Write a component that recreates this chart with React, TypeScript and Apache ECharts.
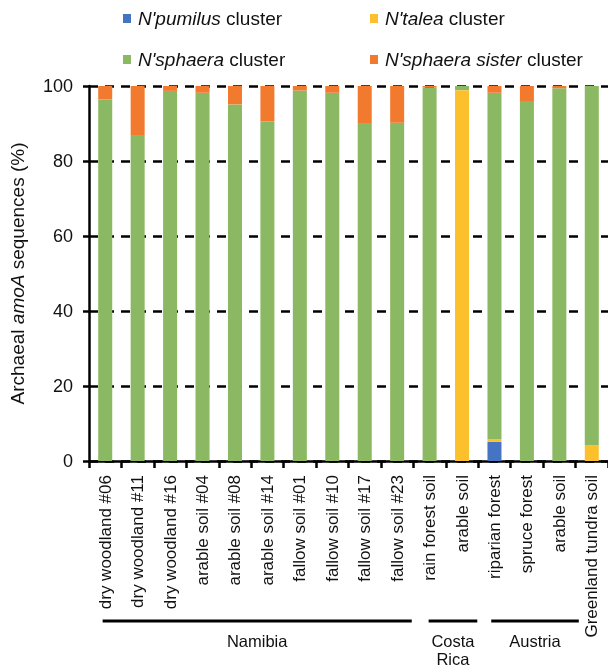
import React, { useEffect, useRef } from "react";
import * as echarts from "echarts";

const categories = [
  "dry woodland #06",
  "dry woodland #11",
  "dry woodland #16",
  "arable soil #04",
  "arable soil #08",
  "arable soil #14",
  "fallow soil #01",
  "fallow soil #10",
  "fallow soil #17",
  "fallow soil #23",
  "rain forest soil",
  "arable soil",
  "riparian forest",
  "spruce forest",
  "arable soil",
  "Greenland tundra soil",
];

const pumilus = [0, 0, 0, 0, 0, 0, 0, 0, 0, 0, 0, 0, 5.1, 0, 0, 0];
const talea = [0, 0, 0, 0, 0, 0, 0, 0, 0, 0, 0, 98.9, 0.7, 0, 0, 4.2];
const sphaera = [96.5, 86.7, 98.7, 98.2, 95.1, 90.5, 98.8, 98.2, 89.9, 90.2, 99.6, 1.1, 92.4, 96.0, 99.4, 95.8];
const sister = [3.5, 13.3, 1.3, 1.8, 4.9, 9.5, 1.2, 1.8, 10.1, 9.8, 0.4, 0, 1.8, 4.0, 0.6, 0];

const yTicks = [0, 20, 40, 60, 80, 100];

const groups = [
  { label: "Namibia", from: -0.08, to: 9.45 },
  { label: "Costa\nRica", from: 9.97, to: 11.47 },
  { label: "Austria", from: 11.9, to: 14.6 },
];

const FONT = "'Liberation Sans', Arial, sans-serif";

const seriesNames = [
  "N'pumilus cluster",
  "N'talea cluster",
  "N'sphaera cluster",
  "N'sphaera sister cluster",
];
const legendLabels: Record<string, string> = {
  "N'pumilus cluster": "{i|N'pumilus} cluster",
  "N'talea cluster": "{i|N'talea} cluster",
  "N'sphaera cluster": "{i|N'sphaera} cluster",
  "N'sphaera sister cluster": "{i|N'sphaera sister} cluster",
};
const colors = ["#4474C2", "#FBC02C", "#8BB862", "#F27A2F"];

export default function App() {
  const ref = useRef<HTMLDivElement>(null);
  useEffect(() => {
    if (!ref.current) return;
    const chart = echarts.init(ref.current, undefined, { renderer: "svg" });
    const legendCommon = {
      orient: "vertical" as const,
      itemWidth: 8,
      itemHeight: 9,
      itemGap: 21,
      icon: "rect",
      padding: 0,
      formatter: (n: string) => legendLabels[n],
      textStyle: {
        fontSize: 19,
        lineHeight: 20,
        fontFamily: FONT,
        color: "#111",
        padding: [0, 0, 0, 2],
        rich: { i: { fontStyle: "italic", fontSize: 19, lineHeight: 20, fontFamily: FONT, color: "#111" } },
      },
    };
    const dataArr = [pumilus, talea, sphaera, sister];
    chart.setOption({
      animation: false,
      legend: [
        { ...legendCommon, left: 123, top: 8.5, data: [seriesNames[0], seriesNames[2]] },
        { ...legendCommon, left: 370, top: 8.5, data: [seriesNames[1], seriesNames[3]] },
      ],
      grid: { left: 88, right: -3, top: 86, bottom: 207 },
      xAxis: {
        type: "category",
        data: categories,
        axisLine: { lineStyle: { color: "#000", width: 2.5 } },
        axisTick: { show: true, length: 7, lineStyle: { color: "#000", width: 2.5 } },
        axisLabel: {
          rotate: 90,
          interval: 0,
          margin: 14,
          fontSize: 17,
          fontFamily: FONT,
          color: "#111",
        },
      },
      yAxis: {
        type: "value",
        min: 0,
        max: 100,
        interval: 20,
        name: "{a|Archaeal }{b|amoA}{a| sequences (%)}",
        nameLocation: "middle",
        nameGap: 62,
        nameTextStyle: {
          fontSize: 19,
          fontFamily: FONT,
          color: "#111",
          rich: {
            a: { fontSize: 19, fontFamily: FONT, color: "#111" },
            b: { fontSize: 19, fontFamily: FONT, color: "#111", fontStyle: "italic" },
          },
        },
        axisLine: { show: true, lineStyle: { color: "#000", width: 2.5 } },
        axisTick: { show: true, length: 6, lineStyle: { color: "#000", width: 2.5 } },
        axisLabel: {
          fontSize: 18,
          fontFamily: FONT,
          color: "#111",
          margin: 16,
          formatter: (v: number) => (yTicks.includes(v) ? String(v) : ""),
        },
        splitLine: {
          show: true,
          lineStyle: { color: "#000", width: 2.5, type: [9, 7] },
        },
      },
      series: seriesNames.map((name, i) => ({
        name,
        type: "bar",
        stack: "total",
        barWidth: 14,
        itemStyle: { color: colors[i] },
        data: dataArr[i],
      })),
    });

    const p0 = chart.convertToPixel({ xAxisIndex: 0 }, 0) as number;
    const p1 = chart.convertToPixel({ xAxisIndex: 0 }, 1) as number;
    const step = p1 - p0;
    const lineY = 621;
    const graphics: any[] = [];
    groups.forEach((g) => {
      const x1 = p0 + g.from * step;
      const x2 = p0 + g.to * step;
      graphics.push({
        type: "line",
        shape: { x1, y1: lineY, x2, y2: lineY },
        style: { stroke: "#000", lineWidth: 3.2 },
      });
      graphics.push({
        type: "text",
        x: (x1 + x2) / 2,
        y: 632,
        style: {
          text: g.label,
          fontSize: 16.5,
          fontFamily: FONT,
          fill: "#111",
          align: "center",
          verticalAlign: "top",
          lineHeight: 18,
        },
      });
    });
    chart.setOption({ graphic: graphics });
    return () => chart.dispose();
  }, []);
  return (
    <div
      ref={ref}
      style={{ position: "fixed", left: 0, top: 0, width: 608, height: 668 }}
    />
  );
}
